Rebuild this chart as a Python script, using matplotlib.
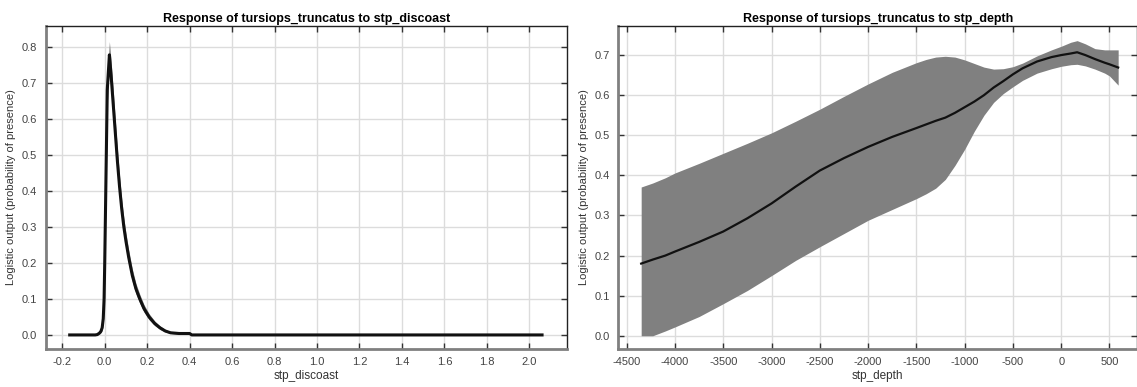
import numpy as np
import matplotlib.pyplot as plt

plt.rcParams['font.family'] = ['Liberation Sans', 'DejaVu Sans']

# response to distance from coast
disc_x = [-0.165, -0.045, -0.035, -0.025, -0.018, -0.012, -0.007, -0.003, 0.0, 0.005,
          0.012, 0.022, 0.03, 0.04, 0.05, 0.06, 0.07, 0.08, 0.09, 0.1, 0.113,
          0.13, 0.147, 0.165, 0.185, 0.209, 0.235, 0.26, 0.285, 0.31, 0.35, 0.4,
          0.41, 2.06]
disc_y = [0.0, 0.0, 0.001, 0.005, 0.01, 0.02, 0.045, 0.1, 0.2, 0.4,
          0.68, 0.777, 0.72, 0.64, 0.56, 0.48, 0.41, 0.35, 0.3, 0.26, 0.215,
          0.165, 0.128, 0.1, 0.073, 0.05, 0.032, 0.02, 0.011, 0.006, 0.004, 0.004,
          0.0, 0.0]
disc_hi = [0.0, 0.0, 0.002, 0.007, 0.014, 0.027, 0.057, 0.12, 0.23, 0.44,
           0.72, 0.814, 0.76, 0.68, 0.595, 0.513, 0.44, 0.377, 0.325, 0.283, 0.236,
           0.183, 0.143, 0.113, 0.084, 0.059, 0.039, 0.025, 0.015, 0.009, 0.006, 0.005,
           0.0, 0.0]
disc_lo = [0.0, 0.0, 0.0, 0.003, 0.006, 0.013, 0.033, 0.08, 0.17, 0.36,
           0.64, 0.745, 0.685, 0.605, 0.527, 0.449, 0.382, 0.325, 0.277, 0.238, 0.195,
           0.148, 0.114, 0.088, 0.063, 0.042, 0.026, 0.015, 0.008, 0.004, 0.002, 0.002,
           0.0, 0.0]

# response to depth
depth_x = [-4350, -4230, -4100, -4000, -3750, -3500, -3250, -3000, -2750, -2500,
           -2250, -2000, -1750, -1500, -1400, -1300, -1200, -1100, -1000, -900,
           -800, -700, -600, -500, -400, -250, -100, 0, 100, 165, 250, 350,
           450, 500, 590]
depth_y = [0.18, 0.19, 0.2, 0.21, 0.234, 0.26, 0.293, 0.33, 0.372, 0.412,
           0.443, 0.471, 0.496, 0.518, 0.527, 0.536, 0.544, 0.556, 0.57, 0.584,
           0.6, 0.619, 0.635, 0.652, 0.667, 0.684, 0.695, 0.700, 0.704, 0.707, 0.7, 0.69,
           0.681, 0.677, 0.669]
depth_hi = [0.371, 0.381, 0.394, 0.406, 0.43, 0.455, 0.48, 0.506, 0.535, 0.565,
            0.597, 0.628, 0.657, 0.681, 0.689, 0.695, 0.697, 0.695, 0.688, 0.679,
            0.67, 0.665, 0.666, 0.671, 0.68, 0.698, 0.713, 0.722, 0.732, 0.736, 0.728, 0.716,
            0.713, 0.713, 0.713]
depth_lo = [0.0, 0.0, 0.012, 0.022, 0.048, 0.08, 0.113, 0.15, 0.188, 0.222,
            0.255, 0.288, 0.315, 0.342, 0.354, 0.368, 0.39, 0.425, 0.465, 0.51,
            0.55, 0.582, 0.604, 0.621, 0.637, 0.655, 0.666, 0.672, 0.676, 0.677, 0.673, 0.665,
            0.655, 0.648, 0.625]

panels = [
    ('stp_discoast', disc_x, disc_y, disc_lo, disc_hi,
     (-0.278, 2.176), (-0.039, 0.857), np.arange(-0.2, 2.01, 0.2),
     np.arange(0, 0.81, 0.1), 2.2),
    ('stp_depth', depth_x, depth_y, depth_lo, depth_hi,
     (-4587, 785), (-0.033, 0.7725), np.arange(-4500, 501, 500),
     np.arange(0, 0.71, 0.1), 1.6),
]
boxes = [[0.0402, 0.0982, 0.4582, 0.8346], [0.5438, 0.0982, 0.4562, 0.8346]]

fig = plt.figure(figsize=(11.37, 3.87), dpi=100)
for box, (var, x, y, lo, hi, xl, yl, xt, yt, lw) in zip(boxes, panels):
    ax = fig.add_axes(box)
    ax.fill_between(x, lo, hi, color='#808080', lw=0)
    ax.plot(x, y, color='#111111', lw=lw)
    ax.set_xlim(*xl)
    ax.set_ylim(*yl)
    ax.set_xticks(xt)
    ax.set_yticks(yt)
    if var == 'stp_depth':
        ax.set_xticklabels([f'{int(v)}' for v in xt])
    else:
        ax.set_xticklabels([f'{v:.1f}'.replace('-0.0', '0.0') for v in xt])
    ax.set_yticklabels([f'{v:.1f}' for v in yt])
    ax.grid(True, color='#dcdcdc', lw=1.0)
    ax.set_axisbelow(True)
    ax.tick_params(direction='in', length=4, width=1, color='#333333',
                   top=True, right=True, labelsize=8, labelcolor='#444444', pad=6)
    for side in ['left', 'bottom']:
        ax.spines[side].set_color('#808080')
        ax.spines[side].set_linewidth(2)
    for side in ['top', 'right']:
        ax.spines[side].set_color('#222222')
        ax.spines[side].set_linewidth(1)
    ax.set_title(f'Response of tursiops_truncatus to {var}', fontsize=9,
                 fontweight='bold', pad=3)
    ax.set_xlabel(var, fontsize=8.5, color='#333333', labelpad=2)
    ax.set_ylabel('Logistic output (probability of presence)', fontsize=8,
                  color='#333333', labelpad=4)

fig.savefig('out.png', dpi=100)
